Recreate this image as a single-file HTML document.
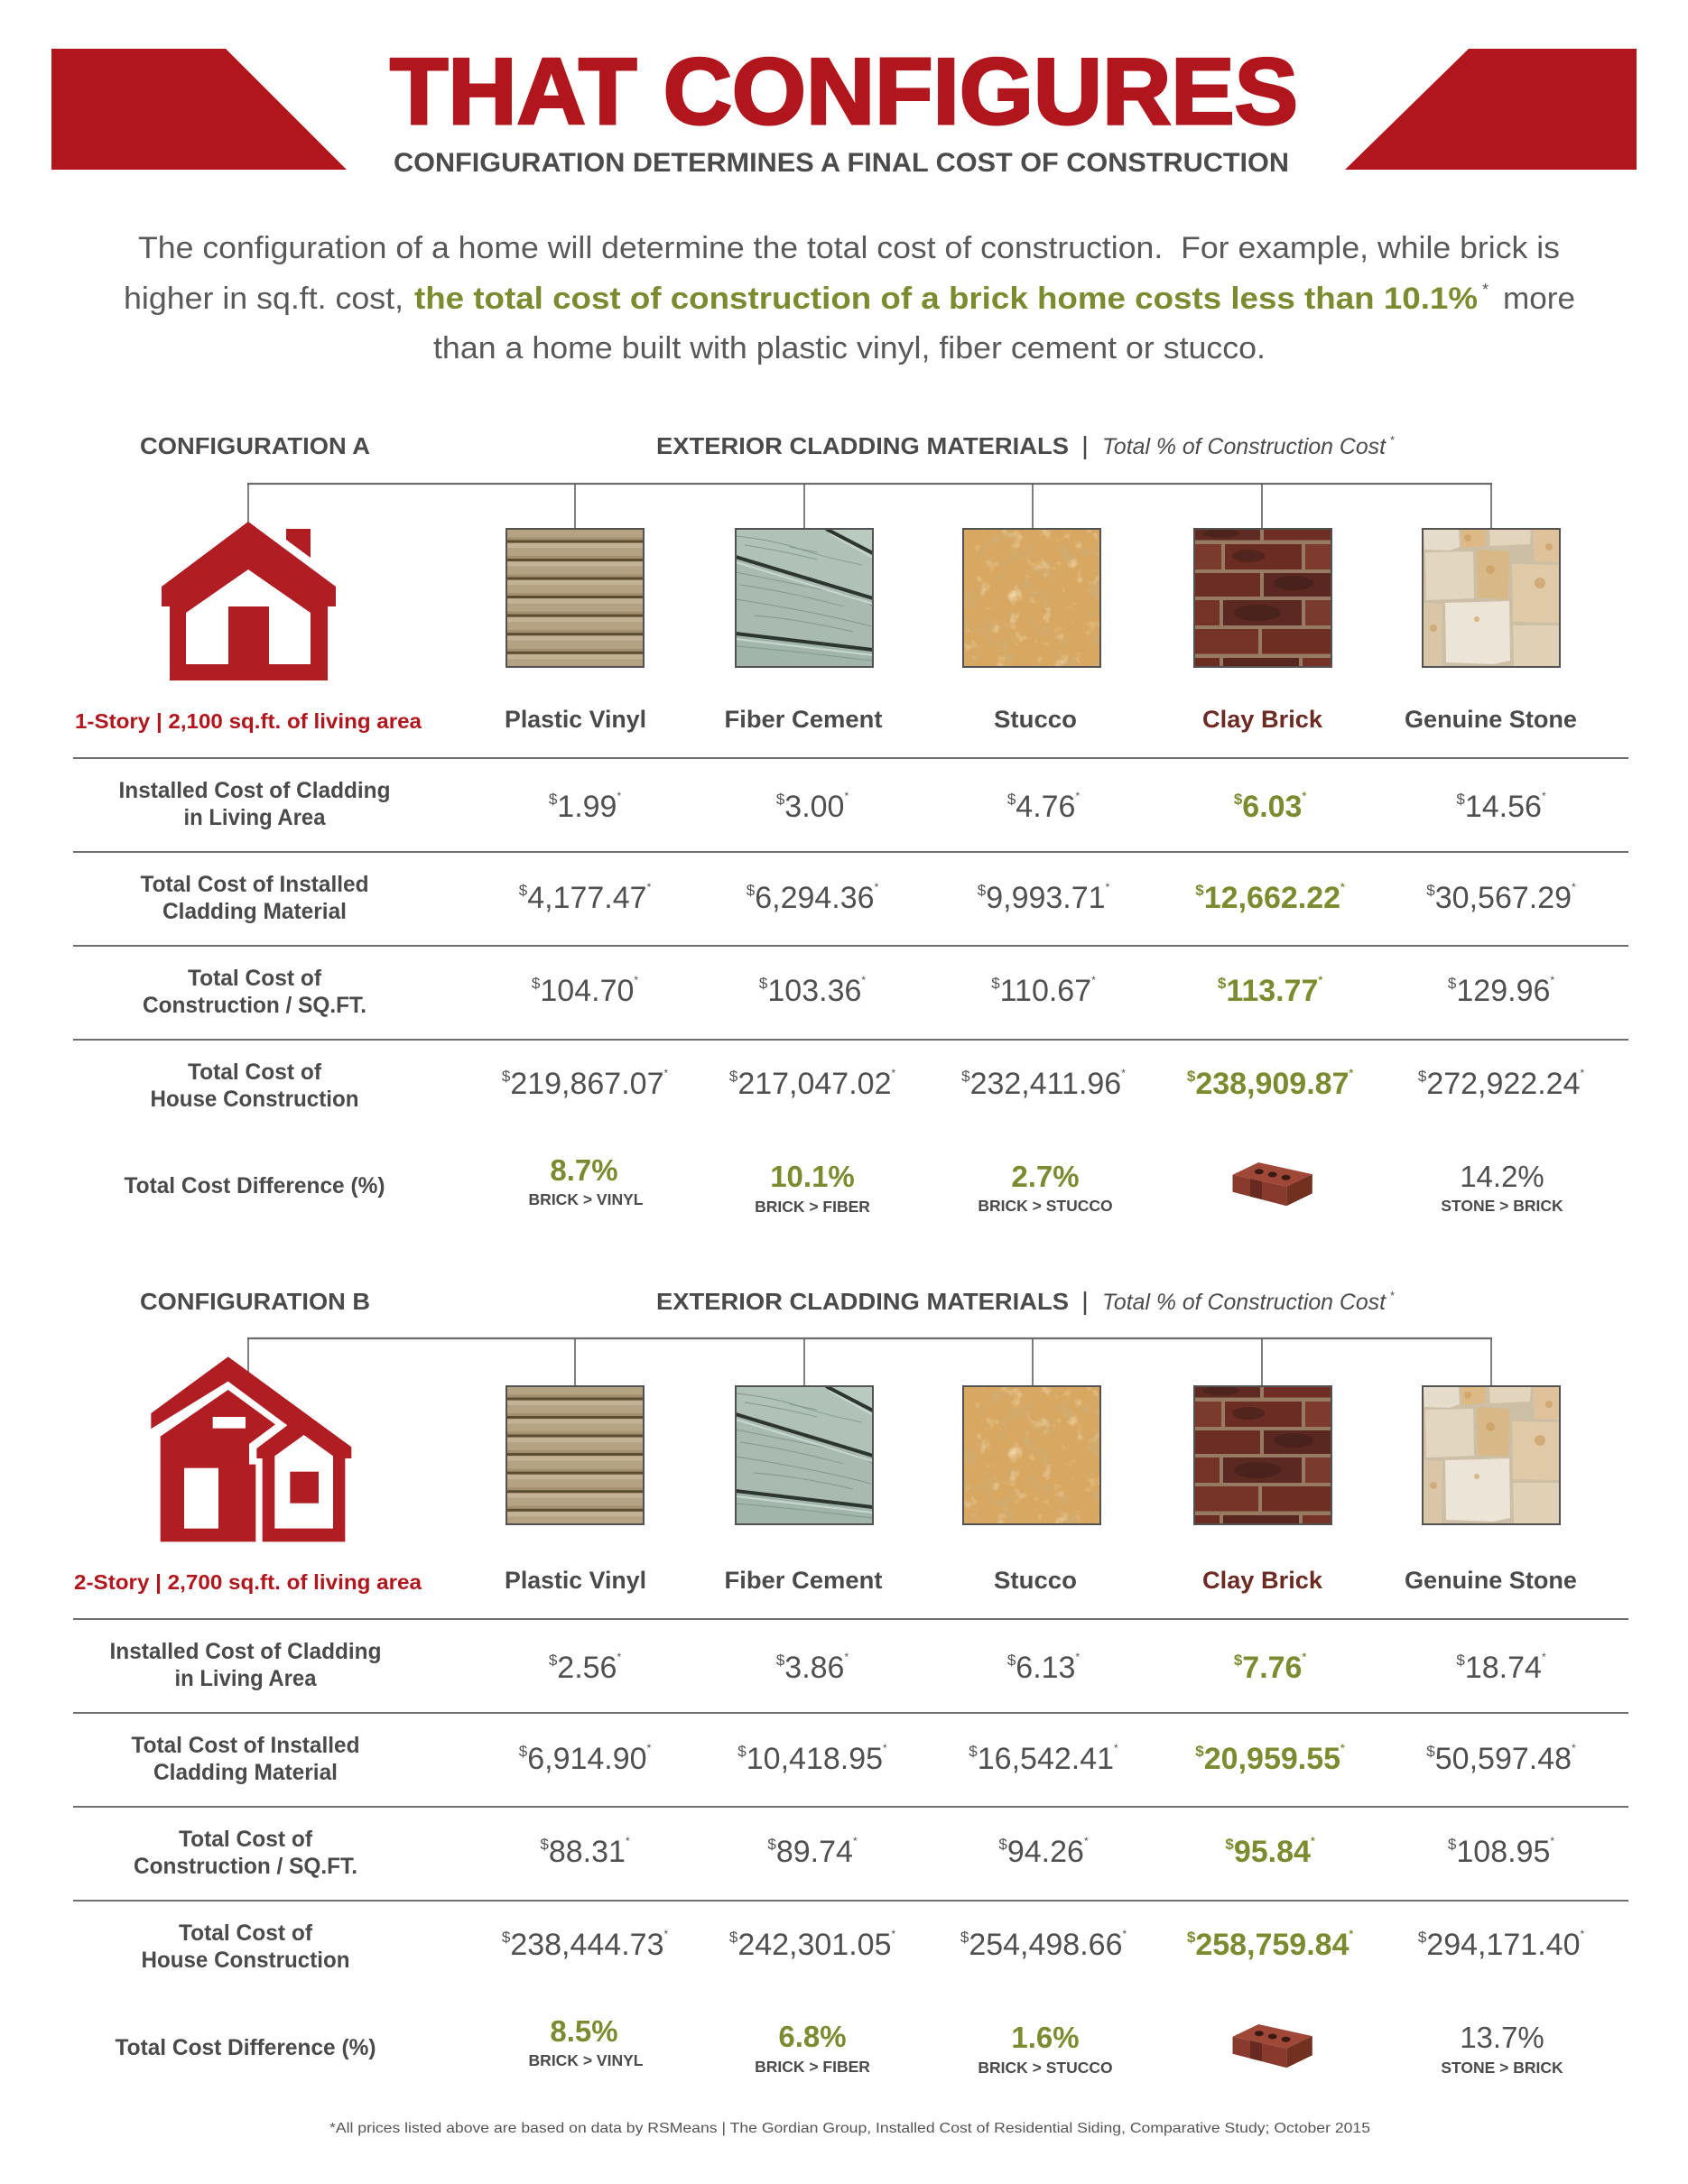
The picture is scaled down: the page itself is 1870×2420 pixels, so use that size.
<!DOCTYPE html>
<html><head><meta charset="utf-8">
<style>
html,body{margin:0;padding:0;background:#fff}
svg{display:block}
</style></head>
<body>
<svg width="1870" height="2420" viewBox="0 0 1870 2420" xmlns="http://www.w3.org/2000/svg">
<style>
text{font-family:"Liberation Sans",Arial,sans-serif}
.hd{font-size:26px;font-weight:bold;fill:#4a4a4a}
.lab{font-size:25px;font-weight:bold;fill:#4a4a4a}
.mat{font-size:27px;font-weight:bold;fill:#4a4a4a}
.v{font-size:34px;fill:#505050}
.g{font-size:34px;font-weight:bold;fill:#7b8b2f}
.s{font-size:17px}
.a{font-size:12px}
.gd{font-size:33px;font-weight:bold;fill:#7b8b2f}
.rd{font-size:33px;fill:#505050}
.cmp{font-size:17.5px;font-weight:bold;fill:#4a4a4a}
.para{font-size:34px;fill:#595959}
</style>
<defs>
  <clipPath id="sq"><rect width="152" height="153"/></clipPath>
  <filter id="nz1" x="0" y="0" width="1" height="1">
    <feTurbulence type="fractalNoise" baseFrequency="0.05" numOctaves="3" seed="4"/>
    <feColorMatrix type="matrix" values="0 0 0 0 0.62  0 0 0 0 0.42  0 0 0 0 0.18  0 0 0 2.6 -1.35"/>
  </filter>
  <filter id="nz2" x="0" y="0" width="1" height="1">
    <feTurbulence type="fractalNoise" baseFrequency="0.06" numOctaves="3" seed="9"/>
    <feColorMatrix type="matrix" values="0 0 0 0 0.90  0 0 0 0 0.74  0 0 0 0 0.48  0 0 0 2.4 -1.45"/>
  </filter>

  <g id="vinyl" clip-path="url(#sq)">
    <rect width="152" height="153" fill="#b5a283"/>
    <g fill="#c3b294">
      <rect y="-4.5" width="152" height="5"/><rect y="16" width="152" height="5"/><rect y="36.5" width="152" height="5"/><rect y="57" width="152" height="5"/><rect y="77.6" width="152" height="5"/><rect y="98.2" width="152" height="5"/><rect y="118.7" width="152" height="5"/><rect y="139.3" width="152" height="5"/>
    </g>
    <g fill="#a48f6f">
      <rect y="9.5" width="152" height="3"/><rect y="30" width="152" height="3"/><rect y="50.5" width="152" height="3"/><rect y="71" width="152" height="3"/><rect y="91.6" width="152" height="3"/><rect y="112.2" width="152" height="3"/><rect y="132.8" width="152" height="3"/>
    </g>
    <g fill="#5c4d31">
      <rect y="12.5" width="152" height="3"/><rect y="33" width="152" height="3"/><rect y="53.5" width="152" height="3"/><rect y="74" width="152" height="3"/><rect y="94.6" width="152" height="3"/><rect y="115.2" width="152" height="3"/><rect y="135.8" width="152" height="3"/>
    </g>
  </g>

  <g id="fiber" clip-path="url(#sq)">
    <rect width="152" height="153" fill="#a9bcb2"/>
    <polygon points="100,0 152,0 152,27" fill="#b9cbc1"/>
    <polygon points="0,0 100,0 152,27 152,77 0,31" fill="#b0c2b8"/>
    <polygon points="0,31 152,77 152,134 0,116" fill="#a9bbb1"/>
    <polygon points="0,116 152,134 152,153 0,153" fill="#a2b5ab"/>
    <g stroke="#829790" stroke-width="0.9" fill="none">
      <path d="M0,8 Q40,12 70,22 T140,40"/>
      <path d="M10,18 Q50,24 90,34"/>
      <path d="M0,48 Q50,58 100,68 T152,88"/>
      <path d="M5,62 Q60,70 120,86"/>
      <path d="M0,78 Q40,84 80,92 T150,108"/>
      <path d="M20,96 Q70,100 130,114"/>
      <path d="M0,130 Q50,134 100,140 T152,146"/>
      <path d="M60,20 L90,26"/>
    </g>
    <g stroke="#c8d7cf" stroke-width="2" fill="none">
      <path d="M0,37 L152,83"/><path d="M104,5 L152,32"/><path d="M0,122 L152,140"/>
    </g>
    <g stroke="#2c3530" stroke-width="4" fill="none">
      <path d="M0,31 L152,77"/><path d="M100,0 L152,27"/><path d="M0,116 L152,134"/>
    </g>
  </g>

  <g id="stucco" clip-path="url(#sq)">
    <rect width="152" height="153" fill="#d8a761"/>
    <rect width="152" height="153" filter="url(#nz1)"/>
    <rect width="152" height="153" filter="url(#nz2)"/>
  </g>

  <g id="brick" clip-path="url(#sq)">
    <rect width="152" height="153" fill="#977a62"/>
    <rect x="0" y="0" width="73" height="12.5" fill="#5e2a22"/>
    <rect x="77" y="0" width="75" height="12.5" fill="#6f2e24"/>
    <rect x="0" y="17" width="30" height="28" fill="#7a3a2d"/>
    <rect x="34" y="17" width="85" height="28" fill="#6a2c23"/>
    <rect x="123" y="17" width="29" height="28" fill="#7d3a2d"/>
    <rect x="0" y="49" width="73" height="26" fill="#6c2d24"/>
    <rect x="77" y="49" width="75" height="26" fill="#5a2721"/>
    <rect x="0" y="79" width="28" height="28" fill="#743326"/>
    <rect x="32" y="79" width="87" height="28" fill="#5b2822"/>
    <rect x="123" y="79" width="29" height="28" fill="#7a3a2d"/>
    <rect x="0" y="111" width="71" height="27.5" fill="#743326"/>
    <rect x="75" y="111" width="77" height="27.5" fill="#6e2e24"/>
    <rect x="0" y="143" width="28" height="10" fill="#6a2c23"/>
    <rect x="32" y="143" width="84" height="10" fill="#5a2620"/>
    <rect x="120" y="143" width="32" height="10" fill="#743326"/>
    <g fill="#3e1f1a" opacity="0.55">
      <ellipse cx="70" cy="93" rx="26" ry="9"/><ellipse cx="110" cy="60" rx="22" ry="8"/><ellipse cx="60" cy="30" rx="18" ry="7"/><ellipse cx="30" cy="5" rx="20" ry="5"/>
    </g>
  </g>

  <g id="stone" clip-path="url(#sq)">
    <rect width="152" height="153" fill="#cdbfa5"/>
    <polygon points="1,1 40,1 41,20 30,24 2,23" fill="#e6dccb"/>
    <polygon points="43,1 70,1 69,19 44,21" fill="#dcb985"/>
    <polygon points="74,1 120,1 119,17 75,19" fill="#e2d4bd"/>
    <polygon points="122,1 151,1 151,37 124,36" fill="#dfc29a"/>
    <polygon points="3,26 56,25 57,77 4,79" fill="#e3d6c0"/>
    <polygon points="60,23 96,25 95,78 61,76" fill="#d8b887"/>
    <polygon points="99,39 151,40 151,104 100,103" fill="#e0c9a6"/>
    <polygon points="0,82 22,83 21,152 0,152" fill="#d9c6a8"/>
    <polygon points="25,82 96,80 97,146 78,150 26,148" fill="#ece4d6"/>
    <polygon points="100,107 151,107 151,152 101,152" fill="#dfd0b6"/>
    <g fill="#c99a5a" opacity="0.6">
      <circle cx="50" cy="10" r="4"/><circle cx="75" cy="45" r="5"/><circle cx="130" cy="60" r="6"/><circle cx="60" cy="100" r="3"/><circle cx="12" cy="110" r="4"/><circle cx="140" cy="20" r="4"/>
    </g>
  </g>

  <g id="bricon">
    <polygon points="1365.5,1301.8 1394.2,1288 1453.8,1301.1 1425.2,1314.8" fill="#a04838"/>
    <polygon points="1365.5,1301.8 1425.2,1314.8 1425.2,1336.2 1365.5,1320.7" fill="#883a2d"/>
    <polygon points="1385,1306 1398,1309 1398,1329 1385,1326" fill="#4a1e17" opacity="0.55"/>
    <polygon points="1425.2,1314.8 1453.8,1301.1 1453.8,1322.4 1425.2,1336.2" fill="#72301f"/>
    <g fill="#3b1a14">
      <ellipse cx="1394.8" cy="1298.2" rx="5" ry="3"/>
      <ellipse cx="1409.7" cy="1301.5" rx="5" ry="3"/>
      <ellipse cx="1424.6" cy="1304.7" rx="5" ry="3"/>
    </g>
  </g>
</defs>

<rect width="1870" height="2420" fill="#ffffff"/>

<!-- Banner -->
<polygon points="57,54 250,54 384,188 57,188" fill="#b1161c"/>
<polygon points="1627,54 1813,54 1813,188 1490,188" fill="#b1161c"/>
<text x="432" y="137" font-size="104" font-weight="bold" fill="#b1161c" stroke="#b1161c" stroke-width="3" textLength="1006" lengthAdjust="spacingAndGlyphs">THAT CONFIGURES</text>
<text x="436" y="190" font-size="30" font-weight="bold" fill="#4b4b4b" textLength="992" lengthAdjust="spacingAndGlyphs">CONFIGURATION DETERMINES A FINAL COST OF CONSTRUCTION</text>

<!-- Paragraph -->
<text class="para" x="153" y="286" textLength="1575" lengthAdjust="spacingAndGlyphs">The configuration of a home will determine the total cost of construction.&#160; For example, while brick is</text>
<text class="para" x="137" y="342" textLength="310" lengthAdjust="spacingAndGlyphs">higher in sq.ft. cost,</text>
<text x="459" y="342" font-size="34" font-weight="bold" fill="#7b8b2f" textLength="1178" lengthAdjust="spacingAndGlyphs">the total cost of construction of a brick home costs less than 10.1%</text>
<text x="1642" y="327" font-size="18" fill="#555">*</text>
<text class="para" x="1665" y="342" textLength="80" lengthAdjust="spacingAndGlyphs">more</text>
<text class="para" x="480" y="397" textLength="922" lengthAdjust="spacingAndGlyphs">than a home built with plastic vinyl, fiber cement or stucco.</text>

<!-- ================= SECTION A ================= -->
<text class="hd" x="155" y="503" textLength="255" lengthAdjust="spacingAndGlyphs">CONFIGURATION A</text>
<text class="hd" x="727" y="503" textLength="457" lengthAdjust="spacingAndGlyphs">EXTERIOR CLADDING MATERIALS</text>
<line x1="1202" y1="483" x2="1202" y2="509" stroke="#4a4a4a" stroke-width="2.5"/>
<text x="1221" y="503" font-size="25" font-style="italic" fill="#4a4a4a" textLength="314" lengthAdjust="spacingAndGlyphs">Total % of Construction Cost</text>
<text x="1540" y="492" font-size="13" fill="#4a4a4a">*</text>

<line x1="274" y1="536" x2="1653" y2="536" stroke="#6d6d6d" stroke-width="2.2"/>
<g stroke="#555" stroke-width="1.5">
  <line x1="275" y1="536" x2="275" y2="579"/>
  <line x1="637" y1="536" x2="637" y2="586"/>
  <line x1="891" y1="536" x2="891" y2="586"/>
  <line x1="1144" y1="536" x2="1144" y2="586"/>
  <line x1="1398" y1="536" x2="1398" y2="586"/>
  <line x1="1652" y1="536" x2="1652" y2="586"/>
</g>

<!-- House A -->
<polygon points="275,578 372,650 372,672 363,672 363,754 188,754 188,672 179,672 179,650" fill="#b01e24"/>
<polygon points="317,586 344,586 344,618 317,598" fill="#b01e24"/>
<polygon points="206,679 275,631 344,679 344,736 206,736" fill="#ffffff"/>
<rect x="253" y="672" width="45" height="64" fill="#b01e24"/>

<!-- Swatches A -->
<use href="#vinyl" transform="translate(561,586)"/>
<use href="#fiber" transform="translate(815,586)"/>
<use href="#stucco" transform="translate(1067,586)"/>
<use href="#brick" transform="translate(1323,586)"/>
<use href="#stone" transform="translate(1576,586)"/>
<g fill="none" stroke="#525252" stroke-width="2">
  <rect x="561" y="586" width="152" height="153"/>
  <rect x="815" y="586" width="152" height="153"/>
  <rect x="1067" y="586" width="152" height="153"/>
  <rect x="1323" y="586" width="152" height="153"/>
  <rect x="1576" y="586" width="152" height="153"/>
</g>

<text x="83" y="807" font-size="23.5" font-weight="bold" fill="#b1161c" textLength="384" lengthAdjust="spacingAndGlyphs">1-Story | 2,100 sq.ft. of living area</text>
<text class="mat" x="637.5" y="806" text-anchor="middle" textLength="157" lengthAdjust="spacingAndGlyphs">Plastic Vinyl</text>
<text class="mat" x="890" y="806" text-anchor="middle" textLength="175" lengthAdjust="spacingAndGlyphs">Fiber Cement</text>
<text class="mat" x="1147" y="806" text-anchor="middle" textLength="92" lengthAdjust="spacingAndGlyphs">Stucco</text>
<text class="mat" x="1398.5" y="806" text-anchor="middle" textLength="133" lengthAdjust="spacingAndGlyphs" style="fill:#6c2a23">Clay Brick</text>
<text class="mat" x="1651.5" y="806" text-anchor="middle" textLength="191" lengthAdjust="spacingAndGlyphs">Genuine Stone</text>

<g stroke="#6e6e6e" stroke-width="2">
  <line x1="81" y1="840" x2="1804" y2="840"/>
  <line x1="81" y1="944" x2="1804" y2="944"/>
  <line x1="81" y1="1048" x2="1804" y2="1048"/>
  <line x1="81" y1="1152" x2="1804" y2="1152"/>
</g>

<text class="lab" x="282" y="884" text-anchor="middle" textLength="301" lengthAdjust="spacingAndGlyphs">Installed Cost of Cladding</text>
<text class="lab" x="282" y="914" text-anchor="middle" textLength="157" lengthAdjust="spacingAndGlyphs">in Living Area</text>
<text class="lab" x="282" y="988" text-anchor="middle" textLength="253" lengthAdjust="spacingAndGlyphs">Total Cost of Installed</text>
<text class="lab" x="282" y="1018" text-anchor="middle" textLength="204" lengthAdjust="spacingAndGlyphs">Cladding Material</text>
<text class="lab" x="282" y="1092" text-anchor="middle" textLength="148" lengthAdjust="spacingAndGlyphs">Total Cost of</text>
<text class="lab" x="282" y="1122" text-anchor="middle" textLength="248" lengthAdjust="spacingAndGlyphs">Construction / SQ.FT.</text>
<text class="lab" x="282" y="1196" text-anchor="middle" textLength="148" lengthAdjust="spacingAndGlyphs">Total Cost of</text>
<text class="lab" x="282" y="1226" text-anchor="middle" textLength="231" lengthAdjust="spacingAndGlyphs">House Construction</text>
<text class="lab" x="282" y="1322" text-anchor="middle" textLength="289" lengthAdjust="spacingAndGlyphs">Total Cost Difference (%)</text>

<!-- Row A1 -->
<text class="v" x="648" y="905" text-anchor="middle"><tspan class="s" dy="-14">$</tspan><tspan dy="14">1.99</tspan><tspan class="a" dy="-19">*</tspan></text>
<text class="v" x="900" y="905" text-anchor="middle"><tspan class="s" dy="-14">$</tspan><tspan dy="14">3.00</tspan><tspan class="a" dy="-19">*</tspan></text>
<text class="v" x="1156" y="905" text-anchor="middle"><tspan class="s" dy="-14">$</tspan><tspan dy="14">4.76</tspan><tspan class="a" dy="-19">*</tspan></text>
<text class="g" x="1407" y="905" text-anchor="middle"><tspan class="s" dy="-14">$</tspan><tspan dy="14">6.03</tspan><tspan class="a" dy="-19">*</tspan></text>
<text class="v" x="1663" y="905" text-anchor="middle"><tspan class="s" dy="-14">$</tspan><tspan dy="14">14.56</tspan><tspan class="a" dy="-19">*</tspan></text>
<!-- Row A2 -->
<text class="v" x="648" y="1006" text-anchor="middle"><tspan class="s" dy="-14">$</tspan><tspan dy="14">4,177.47</tspan><tspan class="a" dy="-19">*</tspan></text>
<text class="v" x="900" y="1006" text-anchor="middle"><tspan class="s" dy="-14">$</tspan><tspan dy="14">6,294.36</tspan><tspan class="a" dy="-19">*</tspan></text>
<text class="v" x="1156" y="1006" text-anchor="middle"><tspan class="s" dy="-14">$</tspan><tspan dy="14">9,993.71</tspan><tspan class="a" dy="-19">*</tspan></text>
<text class="g" x="1407" y="1006" text-anchor="middle"><tspan class="s" dy="-14">$</tspan><tspan dy="14">12,662.22</tspan><tspan class="a" dy="-19">*</tspan></text>
<text class="v" x="1663" y="1006" text-anchor="middle"><tspan class="s" dy="-14">$</tspan><tspan dy="14">30,567.29</tspan><tspan class="a" dy="-19">*</tspan></text>
<!-- Row A3 -->
<text class="v" x="648" y="1109" text-anchor="middle"><tspan class="s" dy="-14">$</tspan><tspan dy="14">104.70</tspan><tspan class="a" dy="-19">*</tspan></text>
<text class="v" x="900" y="1109" text-anchor="middle"><tspan class="s" dy="-14">$</tspan><tspan dy="14">103.36</tspan><tspan class="a" dy="-19">*</tspan></text>
<text class="v" x="1156" y="1109" text-anchor="middle"><tspan class="s" dy="-14">$</tspan><tspan dy="14">110.67</tspan><tspan class="a" dy="-19">*</tspan></text>
<text class="g" x="1407" y="1109" text-anchor="middle"><tspan class="s" dy="-14">$</tspan><tspan dy="14">113.77</tspan><tspan class="a" dy="-19">*</tspan></text>
<text class="v" x="1663" y="1109" text-anchor="middle"><tspan class="s" dy="-14">$</tspan><tspan dy="14">129.96</tspan><tspan class="a" dy="-19">*</tspan></text>
<!-- Row A4 -->
<text class="v" x="648" y="1212" text-anchor="middle"><tspan class="s" dy="-14">$</tspan><tspan dy="14">219,867.07</tspan><tspan class="a" dy="-19">*</tspan></text>
<text class="v" x="900" y="1212" text-anchor="middle"><tspan class="s" dy="-14">$</tspan><tspan dy="14">217,047.02</tspan><tspan class="a" dy="-19">*</tspan></text>
<text class="v" x="1156" y="1212" text-anchor="middle"><tspan class="s" dy="-14">$</tspan><tspan dy="14">232,411.96</tspan><tspan class="a" dy="-19">*</tspan></text>
<text class="g" x="1407" y="1212" text-anchor="middle"><tspan class="s" dy="-14">$</tspan><tspan dy="14">238,909.87</tspan><tspan class="a" dy="-19">*</tspan></text>
<text class="v" x="1663" y="1212" text-anchor="middle"><tspan class="s" dy="-14">$</tspan><tspan dy="14">272,922.24</tspan><tspan class="a" dy="-19">*</tspan></text>
<!-- Diff A -->
<text class="gd" x="647" y="1308" text-anchor="middle">8.7%</text>
<text class="cmp" x="649" y="1335" text-anchor="middle">BRICK &gt; VINYL</text>
<text class="gd" x="900" y="1315" text-anchor="middle">10.1%</text>
<text class="cmp" x="900" y="1343" text-anchor="middle">BRICK &gt; FIBER</text>
<text class="gd" x="1158" y="1315" text-anchor="middle">2.7%</text>
<text class="cmp" x="1158" y="1342" text-anchor="middle">BRICK &gt; STUCCO</text>
<use href="#bricon"/>
<text class="rd" x="1664" y="1315" text-anchor="middle">14.2%</text>
<text class="cmp" x="1664" y="1342" text-anchor="middle">STONE &gt; BRICK</text>

<!-- ================= SECTION B ================= -->
<text class="hd" x="155" y="1451" textLength="255" lengthAdjust="spacingAndGlyphs">CONFIGURATION B</text>
<text class="hd" x="727" y="1451" textLength="457" lengthAdjust="spacingAndGlyphs">EXTERIOR CLADDING MATERIALS</text>
<line x1="1202" y1="1431" x2="1202" y2="1457" stroke="#4a4a4a" stroke-width="2.5"/>
<text x="1221" y="1451" font-size="25" font-style="italic" fill="#4a4a4a" textLength="314" lengthAdjust="spacingAndGlyphs">Total % of Construction Cost</text>
<text x="1540" y="1440" font-size="13" fill="#4a4a4a">*</text>

<line x1="274" y1="1483" x2="1653" y2="1483" stroke="#6d6d6d" stroke-width="2.2"/>
<g stroke="#555" stroke-width="1.5">
  <line x1="275" y1="1483" x2="275" y2="1520"/>
  <line x1="637" y1="1483" x2="637" y2="1536"/>
  <line x1="891" y1="1483" x2="891" y2="1536"/>
  <line x1="1144" y1="1483" x2="1144" y2="1536"/>
  <line x1="1398" y1="1483" x2="1398" y2="1536"/>
  <line x1="1652" y1="1483" x2="1652" y2="1536"/>
</g>

<!-- House B -->
<g transform="translate(150,1490) scale(0.33333)">
  <polygon points="308,40 718,340 718,378 697,378 697,655 83,655 83,292 52,287 52,228" fill="#b01e24"/>
  <polygon points="40,287 308,122 505,268 403,345 403,378 422,378 422,662 400,662 400,398 378,398 378,330 465,265 308,150 83,305 40,305" fill="#ffffff"/>
  <rect x="257" y="240" width="109" height="38" fill="#ffffff"/>
  <rect x="162" y="410" width="114" height="201" fill="#ffffff"/>
  <polygon points="560,300 657,370 657,611 463,611 463,370" fill="#ffffff"/>
  <rect x="514" y="422" width="95" height="105" fill="#b01e24"/>
</g>

<!-- Swatches B -->
<use href="#vinyl" transform="translate(561,1536)"/>
<use href="#fiber" transform="translate(815,1536)"/>
<use href="#stucco" transform="translate(1067,1536)"/>
<use href="#brick" transform="translate(1323,1536)"/>
<use href="#stone" transform="translate(1576,1536)"/>
<g fill="none" stroke="#525252" stroke-width="2">
  <rect x="561" y="1536" width="152" height="153"/>
  <rect x="815" y="1536" width="152" height="153"/>
  <rect x="1067" y="1536" width="152" height="153"/>
  <rect x="1323" y="1536" width="152" height="153"/>
  <rect x="1576" y="1536" width="152" height="153"/>
</g>

<text x="82" y="1761" font-size="23.5" font-weight="bold" fill="#b1161c" textLength="385" lengthAdjust="spacingAndGlyphs">2-Story | 2,700 sq.ft. of living area</text>
<text class="mat" x="637.5" y="1760" text-anchor="middle" textLength="157" lengthAdjust="spacingAndGlyphs">Plastic Vinyl</text>
<text class="mat" x="890" y="1760" text-anchor="middle" textLength="175" lengthAdjust="spacingAndGlyphs">Fiber Cement</text>
<text class="mat" x="1147" y="1760" text-anchor="middle" textLength="92" lengthAdjust="spacingAndGlyphs">Stucco</text>
<text class="mat" x="1398.5" y="1760" text-anchor="middle" textLength="133" lengthAdjust="spacingAndGlyphs" style="fill:#6c2a23">Clay Brick</text>
<text class="mat" x="1651.5" y="1760" text-anchor="middle" textLength="191" lengthAdjust="spacingAndGlyphs">Genuine Stone</text>

<g stroke="#6e6e6e" stroke-width="2">
  <line x1="81" y1="1794" x2="1804" y2="1794"/>
  <line x1="81" y1="1898" x2="1804" y2="1898"/>
  <line x1="81" y1="2002" x2="1804" y2="2002"/>
  <line x1="81" y1="2106" x2="1804" y2="2106"/>
</g>

<text class="lab" x="272" y="1838" text-anchor="middle" textLength="301" lengthAdjust="spacingAndGlyphs">Installed Cost of Cladding</text>
<text class="lab" x="272" y="1868" text-anchor="middle" textLength="157" lengthAdjust="spacingAndGlyphs">in Living Area</text>
<text class="lab" x="272" y="1942" text-anchor="middle" textLength="253" lengthAdjust="spacingAndGlyphs">Total Cost of Installed</text>
<text class="lab" x="272" y="1972" text-anchor="middle" textLength="204" lengthAdjust="spacingAndGlyphs">Cladding Material</text>
<text class="lab" x="272" y="2046" text-anchor="middle" textLength="148" lengthAdjust="spacingAndGlyphs">Total Cost of</text>
<text class="lab" x="272" y="2076" text-anchor="middle" textLength="248" lengthAdjust="spacingAndGlyphs">Construction / SQ.FT.</text>
<text class="lab" x="272" y="2150" text-anchor="middle" textLength="148" lengthAdjust="spacingAndGlyphs">Total Cost of</text>
<text class="lab" x="272" y="2180" text-anchor="middle" textLength="231" lengthAdjust="spacingAndGlyphs">House Construction</text>
<text class="lab" x="272" y="2277" text-anchor="middle" textLength="289" lengthAdjust="spacingAndGlyphs">Total Cost Difference (%)</text>

<!-- Row B1 -->
<text class="v" x="648" y="1859" text-anchor="middle"><tspan class="s" dy="-14">$</tspan><tspan dy="14">2.56</tspan><tspan class="a" dy="-19">*</tspan></text>
<text class="v" x="900" y="1859" text-anchor="middle"><tspan class="s" dy="-14">$</tspan><tspan dy="14">3.86</tspan><tspan class="a" dy="-19">*</tspan></text>
<text class="v" x="1156" y="1859" text-anchor="middle"><tspan class="s" dy="-14">$</tspan><tspan dy="14">6.13</tspan><tspan class="a" dy="-19">*</tspan></text>
<text class="g" x="1407" y="1859" text-anchor="middle"><tspan class="s" dy="-14">$</tspan><tspan dy="14">7.76</tspan><tspan class="a" dy="-19">*</tspan></text>
<text class="v" x="1663" y="1859" text-anchor="middle"><tspan class="s" dy="-14">$</tspan><tspan dy="14">18.74</tspan><tspan class="a" dy="-19">*</tspan></text>
<!-- Row B2 -->
<text class="v" x="648" y="1960" text-anchor="middle"><tspan class="s" dy="-14">$</tspan><tspan dy="14">6,914.90</tspan><tspan class="a" dy="-19">*</tspan></text>
<text class="v" x="900" y="1960" text-anchor="middle"><tspan class="s" dy="-14">$</tspan><tspan dy="14">10,418.95</tspan><tspan class="a" dy="-19">*</tspan></text>
<text class="v" x="1156" y="1960" text-anchor="middle"><tspan class="s" dy="-14">$</tspan><tspan dy="14">16,542.41</tspan><tspan class="a" dy="-19">*</tspan></text>
<text class="g" x="1407" y="1960" text-anchor="middle"><tspan class="s" dy="-14">$</tspan><tspan dy="14">20,959.55</tspan><tspan class="a" dy="-19">*</tspan></text>
<text class="v" x="1663" y="1960" text-anchor="middle"><tspan class="s" dy="-14">$</tspan><tspan dy="14">50,597.48</tspan><tspan class="a" dy="-19">*</tspan></text>
<!-- Row B3 -->
<text class="v" x="648" y="2063" text-anchor="middle"><tspan class="s" dy="-14">$</tspan><tspan dy="14">88.31</tspan><tspan class="a" dy="-19">*</tspan></text>
<text class="v" x="900" y="2063" text-anchor="middle"><tspan class="s" dy="-14">$</tspan><tspan dy="14">89.74</tspan><tspan class="a" dy="-19">*</tspan></text>
<text class="v" x="1156" y="2063" text-anchor="middle"><tspan class="s" dy="-14">$</tspan><tspan dy="14">94.26</tspan><tspan class="a" dy="-19">*</tspan></text>
<text class="g" x="1407" y="2063" text-anchor="middle"><tspan class="s" dy="-14">$</tspan><tspan dy="14">95.84</tspan><tspan class="a" dy="-19">*</tspan></text>
<text class="v" x="1663" y="2063" text-anchor="middle"><tspan class="s" dy="-14">$</tspan><tspan dy="14">108.95</tspan><tspan class="a" dy="-19">*</tspan></text>
<!-- Row B4 -->
<text class="v" x="648" y="2166" text-anchor="middle"><tspan class="s" dy="-14">$</tspan><tspan dy="14">238,444.73</tspan><tspan class="a" dy="-19">*</tspan></text>
<text class="v" x="900" y="2166" text-anchor="middle"><tspan class="s" dy="-14">$</tspan><tspan dy="14">242,301.05</tspan><tspan class="a" dy="-19">*</tspan></text>
<text class="v" x="1156" y="2166" text-anchor="middle"><tspan class="s" dy="-14">$</tspan><tspan dy="14">254,498.66</tspan><tspan class="a" dy="-19">*</tspan></text>
<text class="g" x="1407" y="2166" text-anchor="middle"><tspan class="s" dy="-14">$</tspan><tspan dy="14">258,759.84</tspan><tspan class="a" dy="-19">*</tspan></text>
<text class="v" x="1663" y="2166" text-anchor="middle"><tspan class="s" dy="-14">$</tspan><tspan dy="14">294,171.40</tspan><tspan class="a" dy="-19">*</tspan></text>
<!-- Diff B -->
<text class="gd" x="647" y="2262" text-anchor="middle">8.5%</text>
<text class="cmp" x="649" y="2289" text-anchor="middle">BRICK &gt; VINYL</text>
<text class="gd" x="900" y="2268" text-anchor="middle">6.8%</text>
<text class="cmp" x="900" y="2296" text-anchor="middle">BRICK &gt; FIBER</text>
<text class="gd" x="1158" y="2269" text-anchor="middle">1.6%</text>
<text class="cmp" x="1158" y="2297" text-anchor="middle">BRICK &gt; STUCCO</text>
<use href="#bricon" transform="translate(0,955)"/>
<text class="rd" x="1664" y="2269" text-anchor="middle">13.7%</text>
<text class="cmp" x="1664" y="2297" text-anchor="middle">STONE &gt; BRICK</text>

<!-- Footnote -->
<text x="365" y="2363" font-size="16" fill="#555" textLength="1153" lengthAdjust="spacingAndGlyphs">*All prices listed above are based on data by RSMeans | The Gordian Group, Installed Cost of Residential Siding, Comparative Study; October 2015</text>
</svg>
</body></html>
